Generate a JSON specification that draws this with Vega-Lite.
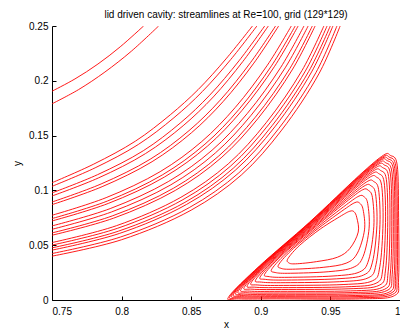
{
  "$schema": "https://vega.github.io/schema/vega-lite/v6.json",
  "width": 348,
  "height": 274,
  "autosize": {"type": "none"},
  "padding": {"left": 52, "top": 26, "right": 0, "bottom": 31},
  "background": "white",
  "title": {"text": "lid driven cavity: streamlines at Re=100, grid (129*129)", "font": "Liberation Sans", "fontSize": 10, "fontWeight": "normal", "color": "#000", "anchor": "middle", "offset": 1},
  "config": {"view": {"stroke": null}},
  "datasets": {
    "open": [
      {"s":"A","o":0,"x":0.75,"y":0.1905},{"s":"A","o":1,"x":0.7665,"y":0.2017},{"s":"A","o":2,"x":0.783,"y":0.2153},{"s":"A","o":3,"x":0.799,"y":0.231},{"s":"A","o":4,"x":0.8158,"y":0.25},
      {"s":"B","o":0,"x":0.75,"y":0.179},{"s":"B","o":1,"x":0.769,"y":0.1919},{"s":"B","o":2,"x":0.788,"y":0.208},{"s":"B","o":3,"x":0.807,"y":0.227},{"s":"B","o":4,"x":0.8266,"y":0.25},
      {"s":"L01","o":0,"x":0.75,"y":0.107},{"s":"L01","o":1,"x":0.78,"y":0.124},{"s":"L01","o":2,"x":0.81,"y":0.145},{"s":"L01","o":3,"x":0.835,"y":0.169},{"s":"L01","o":4,"x":0.855,"y":0.192},{"s":"L01","o":5,"x":0.875,"y":0.22},{"s":"L01","o":6,"x":0.894,"y":0.25},
      {"s":"L02","o":0,"x":0.75,"y":0.1037},{"s":"L02","o":1,"x":0.781,"y":0.1206},{"s":"L02","o":2,"x":0.812,"y":0.1419},{"s":"L02","o":3,"x":0.8376,"y":0.1663},{"s":"L02","o":4,"x":0.858,"y":0.1902},{"s":"L02","o":5,"x":0.8784,"y":0.2194},{"s":"L02","o":6,"x":0.8972,"y":0.25},
      {"s":"L03","o":0,"x":0.75,"y":0.0977},{"s":"L03","o":1,"x":0.7828,"y":0.1144},{"s":"L03","o":2,"x":0.8156,"y":0.1362},{"s":"L03","o":3,"x":0.8421,"y":0.1614},{"s":"L03","o":4,"x":0.8633,"y":0.1869},{"s":"L03","o":5,"x":0.8843,"y":0.2182},{"s":"L03","o":6,"x":0.9028,"y":0.25},
      {"s":"L04","o":0,"x":0.75,"y":0.0949},{"s":"L04","o":1,"x":0.7836,"y":0.1115},{"s":"L04","o":2,"x":0.8172,"y":0.1336},{"s":"L04","o":3,"x":0.8442,"y":0.159},{"s":"L04","o":4,"x":0.8659,"y":0.1853},{"s":"L04","o":5,"x":0.8871,"y":0.2176},{"s":"L04","o":6,"x":0.9054,"y":0.25},
      {"s":"L05","o":0,"x":0.75,"y":0.0894},{"s":"L05","o":1,"x":0.7853,"y":0.1059},{"s":"L05","o":2,"x":0.8205,"y":0.1284},{"s":"L05","o":3,"x":0.8484,"y":0.1545},{"s":"L05","o":4,"x":0.8708,"y":0.1823},{"s":"L05","o":5,"x":0.8926,"y":0.2166},{"s":"L05","o":6,"x":0.9106,"y":0.25},
      {"s":"L06","o":0,"x":0.75,"y":0.087},{"s":"L06","o":1,"x":0.786,"y":0.1034},{"s":"L06","o":2,"x":0.8219,"y":0.1262},{"s":"L06","o":3,"x":0.8502,"y":0.1526},{"s":"L06","o":4,"x":0.8729,"y":0.181},{"s":"L06","o":5,"x":0.895,"y":0.2161},{"s":"L06","o":6,"x":0.9128,"y":0.25},
      {"s":"L07","o":0,"x":0.75,"y":0.0773},{"s":"L07","o":1,"x":0.7889,"y":0.0934},{"s":"L07","o":2,"x":0.8277,"y":0.1171},{"s":"L07","o":3,"x":0.8576,"y":0.1446},{"s":"L07","o":4,"x":0.8816,"y":0.1756},{"s":"L07","o":5,"x":0.9047,"y":0.2142},{"s":"L07","o":6,"x":0.9219,"y":0.25},
      {"s":"L08","o":0,"x":0.75,"y":0.0743},{"s":"L08","o":1,"x":0.7898,"y":0.0903},{"s":"L08","o":2,"x":0.8295,"y":0.1143},{"s":"L08","o":3,"x":0.8599,"y":0.1422},{"s":"L08","o":4,"x":0.8843,"y":0.1739},{"s":"L08","o":5,"x":0.9077,"y":0.2137},{"s":"L08","o":6,"x":0.9247,"y":0.25},
      {"s":"L09","o":0,"x":0.75,"y":0.0721},{"s":"L09","o":1,"x":0.7904,"y":0.0881},{"s":"L09","o":2,"x":0.8308,"y":0.1122},{"s":"L09","o":3,"x":0.8616,"y":0.1403},{"s":"L09","o":4,"x":0.8863,"y":0.1727},{"s":"L09","o":5,"x":0.9099,"y":0.2132},{"s":"L09","o":6,"x":0.9268,"y":0.25},
      {"s":"L10","o":0,"x":0.75,"y":0.0676},{"s":"L10","o":1,"x":0.7918,"y":0.0834},{"s":"L10","o":2,"x":0.8335,"y":0.108},{"s":"L10","o":3,"x":0.865,"y":0.1367},{"s":"L10","o":4,"x":0.8903,"y":0.1702},{"s":"L10","o":5,"x":0.9144,"y":0.2124},{"s":"L10","o":6,"x":0.931,"y":0.25},
      {"s":"L11","o":0,"x":0.75,"y":0.0645},{"s":"L11","o":1,"x":0.7927,"y":0.0803},{"s":"L11","o":2,"x":0.8354,"y":0.1051},{"s":"L11","o":3,"x":0.8673,"y":0.1341},{"s":"L11","o":4,"x":0.893,"y":0.1685},{"s":"L11","o":5,"x":0.9175,"y":0.2118},{"s":"L11","o":6,"x":0.934,"y":0.25},
      {"s":"L12","o":0,"x":0.75,"y":0.0612},{"s":"L12","o":1,"x":0.7937,"y":0.0769},{"s":"L12","o":2,"x":0.8373,"y":0.102},{"s":"L12","o":3,"x":0.8698,"y":0.1314},{"s":"L12","o":4,"x":0.896,"y":0.1667},{"s":"L12","o":5,"x":0.9208,"y":0.2111},{"s":"L12","o":6,"x":0.937,"y":0.25},
      {"s":"L13","o":0,"x":0.75,"y":0.0591},{"s":"L13","o":1,"x":0.7943,"y":0.0747},{"s":"L13","o":2,"x":0.8386,"y":0.1},{"s":"L13","o":3,"x":0.8715,"y":0.1297},{"s":"L13","o":4,"x":0.8979,"y":0.1655},{"s":"L13","o":5,"x":0.9229,"y":0.2107},{"s":"L13","o":6,"x":0.939,"y":0.25},
      {"s":"L14","o":0,"x":0.75,"y":0.0524},{"s":"L14","o":1,"x":0.7963,"y":0.0678},{"s":"L14","o":2,"x":0.8426,"y":0.0937},{"s":"L14","o":3,"x":0.8766,"y":0.1242},{"s":"L14","o":4,"x":0.9039,"y":0.1618},{"s":"L14","o":5,"x":0.9296,"y":0.2094},{"s":"L14","o":6,"x":0.9453,"y":0.25},
      {"s":"L15","o":0,"x":0.75,"y":0.0501},{"s":"L15","o":1,"x":0.797,"y":0.0654},{"s":"L15","o":2,"x":0.844,"y":0.0915},{"s":"L15","o":3,"x":0.8784,"y":0.1223},{"s":"L15","o":4,"x":0.906,"y":0.1606},{"s":"L15","o":5,"x":0.932,"y":0.2089},{"s":"L15","o":6,"x":0.9476,"y":0.25},
      {"s":"L16","o":0,"x":0.75,"y":0.0476},{"s":"L16","o":1,"x":0.7977,"y":0.0628},{"s":"L16","o":2,"x":0.8455,"y":0.0891},{"s":"L16","o":3,"x":0.8802,"y":0.1202},{"s":"L16","o":4,"x":0.9082,"y":0.1592},{"s":"L16","o":5,"x":0.9344,"y":0.2085},{"s":"L16","o":6,"x":0.9499,"y":0.25},
      {"s":"L17","o":0,"x":0.75,"y":0.0455},{"s":"L17","o":1,"x":0.7984,"y":0.0607},{"s":"L17","o":2,"x":0.8467,"y":0.0872},{"s":"L17","o":3,"x":0.8818,"y":0.1185},{"s":"L17","o":4,"x":0.9101,"y":0.158},{"s":"L17","o":5,"x":0.9365,"y":0.2081},{"s":"L17","o":6,"x":0.9518,"y":0.25},
      {"s":"L18","o":0,"x":0.75,"y":0.0424},{"s":"L18","o":1,"x":0.7993,"y":0.0575},{"s":"L18","o":2,"x":0.8486,"y":0.0843},{"s":"L18","o":3,"x":0.8842,"y":0.116},{"s":"L18","o":4,"x":0.9128,"y":0.1563},{"s":"L18","o":5,"x":0.9396,"y":0.2075},{"s":"L18","o":6,"x":0.9547,"y":0.25},
      {"s":"L19","o":0,"x":0.75,"y":0.04},{"s":"L19","o":1,"x":0.8,"y":0.055},{"s":"L19","o":2,"x":0.85,"y":0.082},{"s":"L19","o":3,"x":0.886,"y":0.114},{"s":"L19","o":4,"x":0.915,"y":0.155},{"s":"L19","o":5,"x":0.942,"y":0.207},{"s":"L19","o":6,"x":0.957,"y":0.25}
    ],
    "loops": [
      {"s":"V01","o":1,"x":0.877,"y":0.003},{"s":"V01","o":2,"x":0.899,"y":0.031},{"s":"V01","o":3,"x":0.935,"y":0.071},{"s":"V01","o":4,"x":0.971,"y":0.114},{"s":"V01","o":5,"x":0.988,"y":0.132},{"s":"V01","o":6,"x":0.993,"y":0.132},{"s":"V01","o":7,"x":0.998,"y":0.123},{"s":"V01","o":8,"x":0.999,"y":0.075},{"s":"V01","o":9,"x":0.999,"y":0.02},{"s":"V01","o":10,"x":0.996,"y":0.004},{"s":"V01","o":11,"x":0.971,"y":0.001},{"s":"V01","o":12,"x":0.911,"y":0.001},{"s":"V01","o":13,"x":0.884,"y":0.001},
      {"s":"V02","o":1,"x":0.8783,"y":0.0041},{"s":"V02","o":2,"x":0.8999,"y":0.0316},{"s":"V02","o":3,"x":0.9352,"y":0.0708},{"s":"V02","o":4,"x":0.9706,"y":0.1129},{"s":"V02","o":5,"x":0.9873,"y":0.1304},{"s":"V02","o":6,"x":0.9922,"y":0.1304},{"s":"V02","o":7,"x":0.9971,"y":0.1215},{"s":"V02","o":8,"x":0.9981,"y":0.0746},{"s":"V02","o":9,"x":0.9979,"y":0.0208},{"s":"V02","o":10,"x":0.9947,"y":0.0051},{"s":"V02","o":11,"x":0.97,"y":0.002},{"s":"V02","o":12,"x":0.9114,"y":0.002},{"s":"V02","o":13,"x":0.8851,"y":0.002},
      {"s":"V03","o":1,"x":0.8796,"y":0.0052},{"s":"V03","o":2,"x":0.9008,"y":0.0322},{"s":"V03","o":3,"x":0.9355,"y":0.0706},{"s":"V03","o":4,"x":0.9702,"y":0.1117},{"s":"V03","o":5,"x":0.9865,"y":0.1288},{"s":"V03","o":6,"x":0.9914,"y":0.1288},{"s":"V03","o":7,"x":0.9962,"y":0.12},{"s":"V03","o":8,"x":0.9972,"y":0.0742},{"s":"V03","o":9,"x":0.9968,"y":0.0217},{"s":"V03","o":10,"x":0.9935,"y":0.0062},{"s":"V03","o":11,"x":0.9691,"y":0.0031},{"s":"V03","o":12,"x":0.9119,"y":0.003},{"s":"V03","o":13,"x":0.8862,"y":0.003},
      {"s":"V04","o":1,"x":0.8809,"y":0.0062},{"s":"V04","o":2,"x":0.9017,"y":0.0328},{"s":"V04","o":3,"x":0.9357,"y":0.0705},{"s":"V04","o":4,"x":0.9698,"y":0.1106},{"s":"V04","o":5,"x":0.9858,"y":0.1273},{"s":"V04","o":6,"x":0.9906,"y":0.1273},{"s":"V04","o":7,"x":0.9953,"y":0.1186},{"s":"V04","o":8,"x":0.9963,"y":0.0738},{"s":"V04","o":9,"x":0.9958,"y":0.0225},{"s":"V04","o":10,"x":0.9922,"y":0.0072},{"s":"V04","o":11,"x":0.9682,"y":0.0041},{"s":"V04","o":12,"x":0.9123,"y":0.0039},{"s":"V04","o":13,"x":0.8873,"y":0.004},
      {"s":"V05","o":1,"x":0.8826,"y":0.0076},{"s":"V05","o":2,"x":0.9028,"y":0.0335},{"s":"V05","o":3,"x":0.9361,"y":0.0702},{"s":"V05","o":4,"x":0.9693,"y":0.1092},{"s":"V05","o":5,"x":0.9849,"y":0.1253},{"s":"V05","o":6,"x":0.9896,"y":0.1253},{"s":"V05","o":7,"x":0.9942,"y":0.1167},{"s":"V05","o":8,"x":0.9952,"y":0.0733},{"s":"V05","o":9,"x":0.9944,"y":0.0235},{"s":"V05","o":10,"x":0.9906,"y":0.0086},{"s":"V05","o":11,"x":0.9669,"y":0.0055},{"s":"V05","o":12,"x":0.9128,"y":0.0052},{"s":"V05","o":13,"x":0.8887,"y":0.0053},
      {"s":"V06","o":1,"x":0.8842,"y":0.0089},{"s":"V06","o":2,"x":0.9039,"y":0.0342},{"s":"V06","o":3,"x":0.9364,"y":0.07},{"s":"V06","o":4,"x":0.9688,"y":0.1078},{"s":"V06","o":5,"x":0.9839,"y":0.1234},{"s":"V06","o":6,"x":0.9886,"y":0.1233},{"s":"V06","o":7,"x":0.9931,"y":0.1149},{"s":"V06","o":8,"x":0.9941,"y":0.0728},{"s":"V06","o":9,"x":0.9931,"y":0.0246},{"s":"V06","o":10,"x":0.9891,"y":0.0099},{"s":"V06","o":11,"x":0.9658,"y":0.0068},{"s":"V06","o":12,"x":0.9134,"y":0.0064},{"s":"V06","o":13,"x":0.8901,"y":0.0066},
      {"s":"V07","o":1,"x":0.8862,"y":0.0105},{"s":"V07","o":2,"x":0.9052,"y":0.0351},{"s":"V07","o":3,"x":0.9367,"y":0.0697},{"s":"V07","o":4,"x":0.9682,"y":0.106},{"s":"V07","o":5,"x":0.9828,"y":0.121},{"s":"V07","o":6,"x":0.9874,"y":0.1209},{"s":"V07","o":7,"x":0.9918,"y":0.1127},{"s":"V07","o":8,"x":0.9928,"y":0.0722},{"s":"V07","o":9,"x":0.9915,"y":0.0258},{"s":"V07","o":10,"x":0.9872,"y":0.0115},{"s":"V07","o":11,"x":0.9643,"y":0.0083},{"s":"V07","o":12,"x":0.914,"y":0.0079},{"s":"V07","o":13,"x":0.8917,"y":0.0081},
      {"s":"V08","o":1,"x":0.8885,"y":0.0124},{"s":"V08","o":2,"x":0.9068,"y":0.0361},{"s":"V08","o":3,"x":0.9372,"y":0.0694},{"s":"V08","o":4,"x":0.9675,"y":0.1041},{"s":"V08","o":5,"x":0.9815,"y":0.1183},{"s":"V08","o":6,"x":0.986,"y":0.1182},{"s":"V08","o":7,"x":0.9902,"y":0.1101},{"s":"V08","o":8,"x":0.9912,"y":0.0715},{"s":"V08","o":9,"x":0.9896,"y":0.0273},{"s":"V08","o":10,"x":0.985,"y":0.0134},{"s":"V08","o":11,"x":0.9627,"y":0.0102},{"s":"V08","o":12,"x":0.9148,"y":0.0096},{"s":"V08","o":13,"x":0.8937,"y":0.0099},
      {"s":"V09","o":1,"x":0.8908,"y":0.0143},{"s":"V09","o":2,"x":0.9084,"y":0.0371},{"s":"V09","o":3,"x":0.9376,"y":0.0691},{"s":"V09","o":4,"x":0.9668,"y":0.1021},{"s":"V09","o":5,"x":0.9802,"y":0.1155},{"s":"V09","o":6,"x":0.9846,"y":0.1154},{"s":"V09","o":7,"x":0.9886,"y":0.1075},{"s":"V09","o":8,"x":0.9896,"y":0.0708},{"s":"V09","o":9,"x":0.9877,"y":0.0287},{"s":"V09","o":10,"x":0.9828,"y":0.0153},{"s":"V09","o":11,"x":0.961,"y":0.012},{"s":"V09","o":12,"x":0.9155,"y":0.0113},{"s":"V09","o":13,"x":0.8956,"y":0.0117},
      {"s":"V10","o":1,"x":0.8934,"y":0.0165},{"s":"V10","o":2,"x":0.9102,"y":0.0383},{"s":"V10","o":3,"x":0.9381,"y":0.0687},{"s":"V10","o":4,"x":0.966,"y":0.0998},{"s":"V10","o":5,"x":0.9788,"y":0.1124},{"s":"V10","o":6,"x":0.983,"y":0.1122},{"s":"V10","o":7,"x":0.9868,"y":0.1045},{"s":"V10","o":8,"x":0.9878,"y":0.07},{"s":"V10","o":9,"x":0.9855,"y":0.0304},{"s":"V10","o":10,"x":0.9802,"y":0.0175},{"s":"V10","o":11,"x":0.9591,"y":0.0141},{"s":"V10","o":12,"x":0.9164,"y":0.0133},{"s":"V10","o":13,"x":0.8979,"y":0.0137},
      {"s":"V11","o":1,"x":0.8967,"y":0.0192},{"s":"V11","o":2,"x":0.9124,"y":0.0398},{"s":"V11","o":3,"x":0.9387,"y":0.0682},{"s":"V11","o":4,"x":0.965,"y":0.0969},{"s":"V11","o":5,"x":0.9769,"y":0.1084},{"s":"V11","o":6,"x":0.981,"y":0.1082},{"s":"V11","o":7,"x":0.9846,"y":0.1008},{"s":"V11","o":8,"x":0.9856,"y":0.069},{"s":"V11","o":9,"x":0.9828,"y":0.0325},{"s":"V11","o":10,"x":0.9771,"y":0.0202},{"s":"V11","o":11,"x":0.9567,"y":0.0167},{"s":"V11","o":12,"x":0.9175,"y":0.0158},{"s":"V11","o":13,"x":0.9006,"y":0.0163},
      {"s":"V12","o":1,"x":0.8999,"y":0.0218},{"s":"V12","o":2,"x":0.9146,"y":0.0412},{"s":"V12","o":3,"x":0.9393,"y":0.0678},{"s":"V12","o":4,"x":0.964,"y":0.0941},{"s":"V12","o":5,"x":0.9751,"y":0.1046},{"s":"V12","o":6,"x":0.979,"y":0.1043},{"s":"V12","o":7,"x":0.9824,"y":0.0972},{"s":"V12","o":8,"x":0.9834,"y":0.068},{"s":"V12","o":9,"x":0.9802,"y":0.0345},{"s":"V12","o":10,"x":0.9739,"y":0.0228},{"s":"V12","o":11,"x":0.9543,"y":0.0193},{"s":"V12","o":12,"x":0.9185,"y":0.0182},{"s":"V12","o":13,"x":0.9034,"y":0.0188},
      {"s":"V13","o":1,"x":0.9032,"y":0.0245},{"s":"V13","o":2,"x":0.9168,"y":0.0427},{"s":"V13","o":3,"x":0.9399,"y":0.0673},{"s":"V13","o":4,"x":0.963,"y":0.0912},{"s":"V13","o":5,"x":0.9732,"y":0.1006},{"s":"V13","o":6,"x":0.977,"y":0.1003},{"s":"V13","o":7,"x":0.9802,"y":0.0935},{"s":"V13","o":8,"x":0.9812,"y":0.067},{"s":"V13","o":9,"x":0.9775,"y":0.0366},{"s":"V13","o":10,"x":0.9708,"y":0.0255},{"s":"V13","o":11,"x":0.9519,"y":0.0219},{"s":"V13","o":12,"x":0.9196,"y":0.0207},{"s":"V13","o":13,"x":0.9061,"y":0.0213},
      {"s":"V14","o":1,"x":0.9081,"y":0.0286},{"s":"V14","o":2,"x":0.9202,"y":0.0449},{"s":"V14","o":3,"x":0.9408,"y":0.0666},{"s":"V14","o":4,"x":0.9615,"y":0.087},{"s":"V14","o":5,"x":0.9705,"y":0.0948},{"s":"V14","o":6,"x":0.974,"y":0.0944},{"s":"V14","o":7,"x":0.9768,"y":0.088},{"s":"V14","o":8,"x":0.9778,"y":0.0655},{"s":"V14","o":9,"x":0.9735,"y":0.0397},{"s":"V14","o":10,"x":0.9661,"y":0.0296},{"s":"V14","o":11,"x":0.9484,"y":0.0258},{"s":"V14","o":12,"x":0.9212,"y":0.0244},{"s":"V14","o":13,"x":0.9103,"y":0.0251},
      {"s":"V15","o":1,"x":0.913,"y":0.0326},{"s":"V15","o":2,"x":0.9235,"y":0.0471},{"s":"V15","o":3,"x":0.9418,"y":0.0659},{"s":"V15","o":4,"x":0.96,"y":0.0827},{"s":"V15","o":5,"x":0.9677,"y":0.0889},{"s":"V15","o":6,"x":0.971,"y":0.0884},{"s":"V15","o":7,"x":0.9735,"y":0.0824},{"s":"V15","o":8,"x":0.9745,"y":0.064},{"s":"V15","o":9,"x":0.9694,"y":0.0428},{"s":"V15","o":10,"x":0.9613,"y":0.0336},{"s":"V15","o":11,"x":0.9448,"y":0.0298},{"s":"V15","o":12,"x":0.9228,"y":0.0281},{"s":"V15","o":13,"x":0.9145,"y":0.0289},
      {"s":"V16","o":1,"x":0.9196,"y":0.038},{"s":"V16","o":2,"x":0.928,"y":0.05},{"s":"V16","o":3,"x":0.943,"y":0.065},{"s":"V16","o":4,"x":0.958,"y":0.077},{"s":"V16","o":5,"x":0.964,"y":0.081},{"s":"V16","o":6,"x":0.967,"y":0.0805},{"s":"V16","o":7,"x":0.969,"y":0.075},{"s":"V16","o":8,"x":0.97,"y":0.062},{"s":"V16","o":9,"x":0.964,"y":0.047},{"s":"V16","o":10,"x":0.955,"y":0.039},{"s":"V16","o":11,"x":0.94,"y":0.035},{"s":"V16","o":12,"x":0.925,"y":0.033},{"s":"V16","o":13,"x":0.92,"y":0.034}
    ]
  },
  "layer": [
    {
      "data": {"name": "open"},
      "mark": {"type": "line", "color": "#ff0000", "strokeWidth": 0.9, "interpolate": "catmull-rom", "clip": true},
      "encoding": {
        "x": {"field": "x", "type": "quantitative", "scale": {"domain": [0.75, 1], "nice": false, "zero": false},
          "axis": {"title": "x", "values": [0.75, 0.8, 0.85, 0.9, 0.95, 1], "format": "~g", "grid": false, "tickSize": -4, "labelPadding": 10, "titlePadding": 3, "domainColor": "#000", "tickColor": "#000", "labelColor": "#000", "titleColor": "#000", "labelFont": "Liberation Sans", "titleFont": "Liberation Sans", "labelFontSize": 10, "titleFontSize": 10, "titleFontWeight": "normal"}},
        "y": {"field": "y", "type": "quantitative", "scale": {"domain": [0, 0.25], "nice": false, "zero": false},
          "axis": {"title": "y", "values": [0, 0.05, 0.1, 0.15, 0.2, 0.25], "format": "~g", "grid": false, "tickSize": -4, "labelPadding": 8, "titlePadding": 6, "domainColor": "#000", "tickColor": "#000", "labelColor": "#000", "titleColor": "#000", "labelFont": "Liberation Sans", "titleFont": "Liberation Sans", "labelFontSize": 10, "titleFontSize": 10, "titleFontWeight": "normal"}},
        "detail": {"field": "s", "type": "nominal"},
        "order": {"field": "o", "type": "quantitative"}
      }
    },
    {
      "data": {"name": "loops"},
      "mark": {"type": "line", "color": "#ff0000", "strokeWidth": 0.9, "interpolate": "cardinal-closed", "clip": true},
      "encoding": {
        "x": {"field": "x", "type": "quantitative"},
        "y": {"field": "y", "type": "quantitative"},
        "detail": {"field": "s", "type": "nominal"},
        "order": {"field": "o", "type": "quantitative"}
      }
    }
  ]
}
